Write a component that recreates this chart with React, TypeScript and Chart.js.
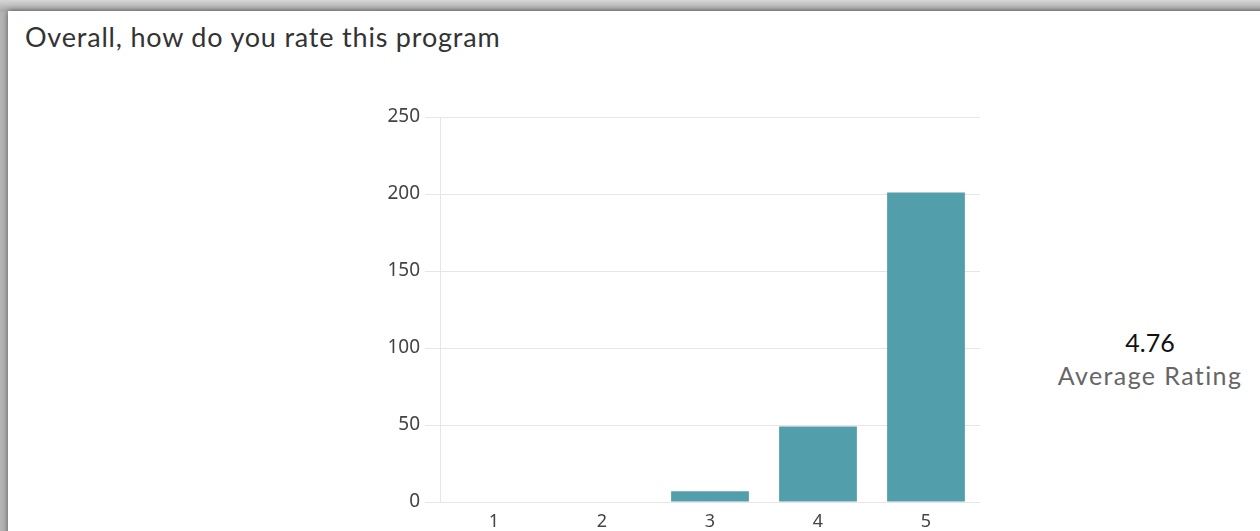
import React, { useEffect, useRef } from "react";
import { Chart, registerables } from "chart.js";

Chart.register(...registerables);

const ratings = ["1", "2", "3", "4", "5"];
const counts = [0, 0, 7, 49, 201];
const yTicks = [0, 50, 100, 150, 200, 250];
const title = "Overall, how do you rate this program";
const averageValue = "4.76";
const averageLabel = "Average Rating";

export default function App() {
  const ref = useRef<HTMLCanvasElement | null>(null);

  useEffect(() => {
    document.body.style.margin = "0";
    const canvas = ref.current;
    if (!canvas) return;
    const chart = new Chart(canvas, {
      type: "bar",
      data: {
        labels: ratings,
        datasets: [
          {
            data: counts,
            backgroundColor: "#529eaa",
            borderWidth: 0,
            barPercentage: 0.72,
            categoryPercentage: 1,
          },
        ],
      },
      options: {
        animation: false,
        responsive: false,
        devicePixelRatio: 1,
        layout: { padding: { left: 380, right: 280, top: 117, bottom: 0 } },
        plugins: { legend: { display: false }, tooltip: { enabled: false }, title: { display: false } },
        scales: {
          x: {
            grid: { display: false, drawTicks: false },
            border: { display: false },
            ticks: {
              padding: 9,
              color: "#444444",
              font: { family: "'Noto Sans', sans-serif", size: 18 },
            },
            afterFit: (s: any) => {
              s.height = 29;
            },
          },
          y: {
            min: yTicks[0],
            max: yTicks[yTicks.length - 1],
            afterBuildTicks: (s: any) => {
              s.ticks = yTicks.map((v) => ({ value: v }));
            },
            grid: { color: "#e6e6e6", tickLength: 15, lineWidth: 1 },
            border: { color: "#e6e6e6" },
            ticks: {
              padding: 5,
              color: "#444444",
              font: { family: "'Noto Sans', sans-serif", size: 19 },
            },
            afterFit: (s: any) => {
              s.width = 60;
            },
          },
        },
      },
    });
    return () => chart.destroy();
  }, []);

  return (
    <div
      style={{
        position: "fixed",
        left: 0,
        top: 0,
        width: 1260,
        height: 531,
        overflow: "hidden",
        background: "linear-gradient(180deg, #d6d6d6 0px, #a9a9a9 11px, #b4b4b4 12px)",
      }}
    >
      <div
        style={{
          position: "absolute",
          left: 8,
          top: 11,
          width: 1270,
          height: 540,
          background: "#ffffff",
          boxShadow: "0 0 6px rgba(0,0,0,0.55)",
        }}
      />
      <div
        style={{
          position: "absolute",
          left: 25,
          top: 21,
          fontFamily: "Lato, sans-serif",
          fontSize: 27,
          letterSpacing: "0.8px",
          color: "#333333",
          whiteSpace: "nowrap",
          lineHeight: "32px",
        }}
      >
        {title}
      </div>
      <div
        style={{
          position: "absolute",
          left: 1040,
          width: 220,
          top: 327,
          textAlign: "center",
          fontFamily: "Lato, sans-serif",
          whiteSpace: "nowrap",
        }}
      >
        <div style={{ fontSize: 25, color: "#111111", lineHeight: "30px" }}>{averageValue}</div>
        <div style={{ fontSize: 25, letterSpacing: "1.4px", color: "#666666", lineHeight: "36px" }}>{averageLabel}</div>
      </div>
      <canvas
        ref={ref}
        width={1260}
        height={531}
        style={{ position: "absolute", left: 0, top: 0, width: 1260, height: 531 }}
      />
    </div>
  );
}
